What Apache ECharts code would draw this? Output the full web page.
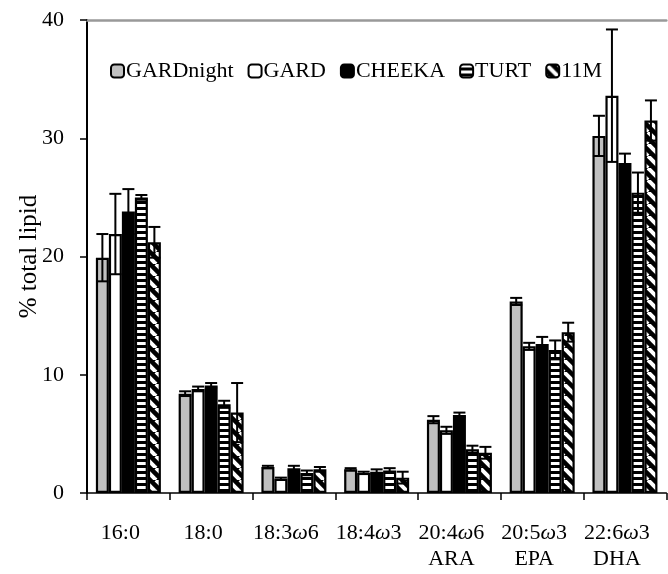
<!DOCTYPE html>
<html>
<head>
<meta charset="utf-8">
<script src="https://cdn.jsdelivr.net/npm/echarts@6/dist/echarts.min.js"></script>
<style>
  html, body { margin: 0; padding: 0; background: #fff; }
  #chart { width: 668px; height: 574px; }
</style>
</head>
<body>
<div id="chart"></div>
<script>
// Fatty acid categories (ω rendered in italics)
var categories = ['16:0', '18:0', '18:3ω6', '18:4ω3', '20:4ω6\nARA', '20:5ω3\nEPA', '22:6ω3\nDHA'];
var seriesNames = ['GARDnight', 'GARD', 'CHEEKA', 'TURT', '11M'];

// Mean % of total lipid per group
var gardNight = [19.9, 8.4, 2.2, 2.0, 6.2, 16.2, 30.2];
var gard      = [21.9, 8.8, 1.2, 1.7, 5.3, 12.4, 33.6];
var cheeka    = [23.8, 9.1, 2.1, 1.8, 6.6, 12.6, 27.9];
var turt      = [25.0, 7.5, 1.7, 1.9, 3.7, 12.1, 25.4];
var m11       = [21.2, 6.8, 2.0, 1.3, 3.4, 13.6, 31.5];

// Error bar half-widths
var gardNightErr = [2.0, 0.2, 0.1, 0.1, 0.3, 0.3, 1.7];
var gardErr      = [3.4, 0.2, 0.1, 0.1, 0.3, 0.3, 5.6];
var cheekaErr    = [1.9, 0.2, 0.2, 0.2, 0.2, 0.6, 0.8];
var turtErr      = [0.2, 0.3, 0.2, 0.2, 0.3, 0.8, 1.7];
var m11Err       = [1.3, 2.5, 0.2, 0.5, 0.5, 0.8, 1.7];

var yTicks = [0, 10, 20, 30, 40];

var FONT = "'Liberation Serif', 'Times New Roman', serif";
var BAR_W = 13;

// Fill patterns for the striped groups
function stripePattern() {
  var c = document.createElement('canvas');
  c.width = 6; c.height = 6;
  var g = c.getContext('2d');
  g.fillStyle = '#000'; g.fillRect(0, 0, 6, 6);
  g.fillStyle = '#fff'; g.fillRect(0, 0, 6, 3);
  return { image: c, repeat: 'repeat' };
}
function diagonalPattern() {
  var s = 12;
  var c = document.createElement('canvas');
  c.width = s; c.height = s;
  var g = c.getContext('2d');
  g.fillStyle = '#000'; g.fillRect(0, 0, s, s);
  g.strokeStyle = '#fff'; g.lineWidth = 4;
  for (var k = -1; k <= 1; k++) {
    g.beginPath();
    g.moveTo(k * s, 0);
    g.lineTo(k * s + s, s);
    g.stroke();
  }
  return { image: c, repeat: 'repeat' };
}

var fills = ['#c0c0c0', '#ffffff', '#000000', stripePattern(), diagonalPattern()];
var values = [gardNight, gard, cheeka, turt, m11];
var errors = [gardNightErr, gardErr, cheekaErr, turtErr, m11Err];

var series = [];
seriesNames.forEach(function (name, i) {
  series.push({
    name: name,
    type: 'bar',
    barWidth: BAR_W,
    barGap: '0%',
    data: values[i],
    itemStyle: { color: fills[i], borderColor: '#000', borderWidth: 2.2 },
    silent: true
  });
});
seriesNames.forEach(function (name, i) {
  var offset = (i - 2) * BAR_W;
  series.push({
    type: 'custom',
    silent: true,
    z: 5,
    data: values[i].map(function (v, j) { return [j, v, errors[i][j]]; }),
    renderItem: function (params, api) {
      var c = api.value(0), v = api.value(1), e = api.value(2);
      var hi = api.coord([c, v + e]);
      var lo = api.coord([c, v - e]);
      var x = hi[0] + offset;
      var cap = 6;
      var st = { stroke: '#000', lineWidth: 2 };
      return {
        type: 'group',
        children: [
          { type: 'line', shape: { x1: x, y1: hi[1], x2: x, y2: lo[1] }, style: st },
          { type: 'line', shape: { x1: x - cap, y1: hi[1], x2: x + cap, y2: hi[1] }, style: st },
          { type: 'line', shape: { x1: x - cap, y1: lo[1], x2: x + cap, y2: lo[1] }, style: st }
        ]
      };
    }
  });
});

var chart = echarts.init(document.getElementById('chart'), null, { renderer: 'canvas' });
chart.setOption({
  animation: false,
  backgroundColor: '#fff',
  textStyle: { fontFamily: FONT },
  legend: {
    data: seriesNames,
    left: 110,
    top: 60,
    padding: 0,
    itemWidth: 13,
    itemHeight: 13,
    itemGap: 14,
    textStyle: { fontFamily: FONT, fontSize: 22, color: '#000', padding: [0, 0, 0, -3] },
    selectedMode: false
  },
  grid: { left: 87, top: 20, width: 590, height: 473 },
  xAxis: [{
    type: 'category',
    data: categories,
    axisLine: { lineStyle: { color: '#000', width: 1.5 } },
    axisTick: { show: true, length: 7, lineStyle: { color: '#000', width: 1.5 } },
    axisLabel: {
      interval: 0,
      margin: 27,
      fontFamily: FONT,
      fontSize: 22,
      lineHeight: 26,
      color: '#000',
      padding: [0, 16, 0, 0],
      formatter: function (v) { return v.replace(/ω/g, '{w|ω}'); },
      rich: { w: { fontFamily: FONT, fontSize: 22, fontStyle: 'italic', color: '#000', lineHeight: 26 } }
    },
    splitLine: { show: false }
  }, {
    type: 'category',
    data: categories,
    position: 'top',
    axisLine: { lineStyle: { color: '#999', width: 2.5 } },
    axisTick: { show: false },
    axisLabel: { show: false }
  }],
  yAxis: {
    type: 'value',
    min: yTicks[0],
    max: yTicks[yTicks.length - 1],
    interval: 10,
    name: '% total lipid',
    nameLocation: 'middle',
    nameGap: 45,
    nameMoveOverlap: false,
    nameRotate: 90,
    nameTextStyle: { fontFamily: FONT, fontSize: 25, color: '#000' },
    axisLine: { show: true, lineStyle: { color: '#000', width: 2 } },
    axisTick: { show: true, length: 7, lineStyle: { color: '#000', width: 1.5 } },
    axisLabel: { margin: 23, fontFamily: FONT, fontSize: 22, color: '#000' },
    splitLine: { show: false }
  },
  series: series
});
</script>
</body>
</html>
